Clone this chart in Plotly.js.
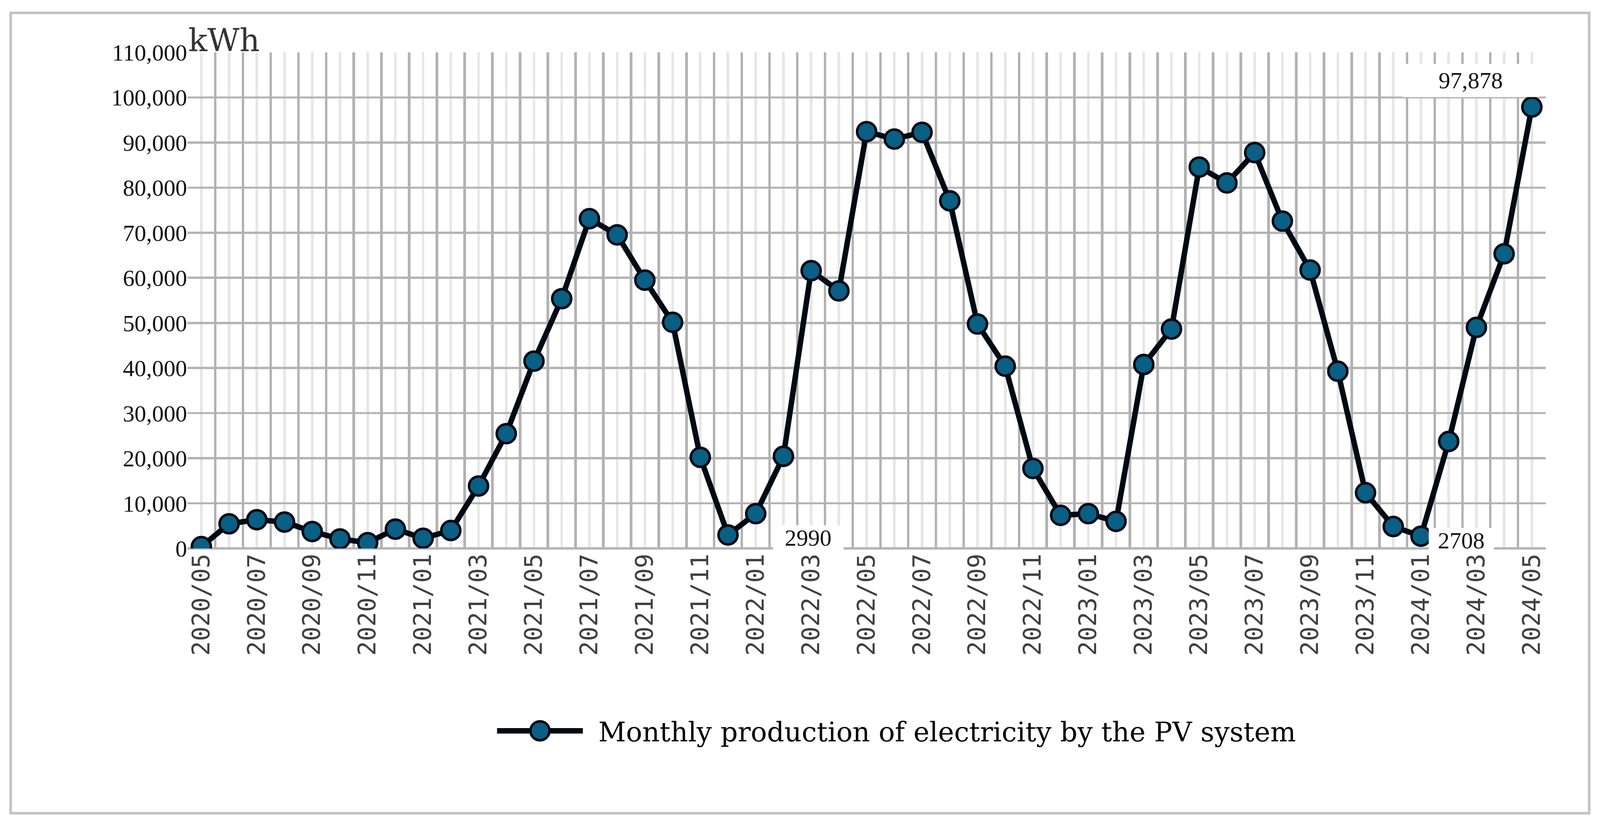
<!DOCTYPE html>
<html>
<head>
<meta charset="utf-8">
<script src="https://cdn.plot.ly/plotly-3.0.1.min.js"></script>
<style>
  html, body { margin: 0; padding: 0; background: #ffffff; overflow: hidden; }
  #chart { position: absolute; left: 0; top: 0; }
</style>
</head>
<body>
<div id="chart"></div>
<script>
// ---- data ----
const months = [
  "2020/05","2020/06","2020/07","2020/08","2020/09","2020/10","2020/11","2020/12",
  "2021/01","2021/02","2021/03","2021/04","2021/05","2021/06","2021/07","2021/08",
  "2021/09","2021/10","2021/11","2021/12","2022/01","2022/02","2022/03","2022/04",
  "2022/05","2022/06","2022/07","2022/08","2022/09","2022/10","2022/11","2022/12",
  "2023/01","2023/02","2023/03","2023/04","2023/05","2023/06","2023/07","2023/08",
  "2023/09","2023/10","2023/11","2023/12","2024/01","2024/02","2024/03","2024/04",
  "2024/05"
];
const production = [
  400, 5460, 6360, 5840, 3740, 2100, 1270, 4270,
  2250, 3970, 13840, 25440, 41530, 55370, 73110, 69520,
  59490, 50140, 20200, 2990, 7710, 20430, 61590, 57100,
  92410, 90770, 92260, 77070, 49760, 40410, 17730, 7330,
  7710, 5990, 40780, 48640, 84560, 81040, 87770, 72580,
  61730, 39290, 12350, 4860, 2708, 23720, 49010, 65330,
  97878
];
const seriesName = "Monthly production of electricity by the PV system";
const unitLabel = "kWh";
const yTicks = [0,10000,20000,30000,40000,50000,60000,70000,80000,90000,100000,110000];
const xTickText = months.map((m, i) => (i % 2 === 0 ? m : ""));

// ---- geometry (designed on a 4380 x 2107 canvas, mapped to the viewport) ----
const DW = 4380, DH = 2107;
const VW = window.innerWidth || DW, VH = window.innerHeight || DH;
const fx = VW / DW, fy = VH / DH, f = Math.min(fx, fy);
const L = 513, R = 4231, T = 134, B = 1404;
const px = X => (X - L) / (R - L);
const py = Y => (B - Y) / (B - T);

const main = {
  type: "scatter",
  mode: "lines+markers",
  x: months,
  y: production,
  name: seriesName,
  line: { color: "#000a14", width: 15 * f },
  marker: { size: 52 * f, color: "#0a5f84", line: { color: "#000a14", width: 7 * f } },
  hoverinfo: "skip"
};
const helper = {
  type: "scatter",
  mode: "markers",
  x: months.map((m, i) => i),
  y: production,
  xaxis: "x2",
  yaxis: "y",
  marker: { opacity: 0 },
  showlegend: false,
  hoverinfo: "skip"
};

const serif = "Liberation Serif";
const numFont = { family: serif, size: 64 * f, color: "#111111" };
const legendLine = 235 * fx;
const legendItemW = 272 * fx;

const layout = {
  width: VW, height: VH,
  margin: { l: L * fx, r: (DW - R) * fx, t: T * fy, b: (DH - B) * fy, pad: 0 },
  paper_bgcolor: "#ffffff",
  plot_bgcolor: "#ffffff",
  showlegend: true,
  hovermode: false,
  xaxis: {
    type: "category",
    categoryorder: "array",
    categoryarray: months,
    range: [-0.5, months.length - 0.5],
    tickmode: "array",
    tickvals: months,
    ticktext: xTickText,
    tickangle: -90,
    ticks: "",
    ticklabelstandoff: 0,
    tickfont: { family: "DejaVu Sans Mono", size: 62 * fy, color: "#404040" },
    showgrid: true,
    gridcolor: "#e6e6e6",
    gridwidth: 7 * f,
    showline: false,
    zeroline: false,
    fixedrange: true
  },
  xaxis2: {
    overlaying: "x",
    anchor: "y",
    type: "linear",
    range: [-0.5, months.length - 0.5],
    tick0: -0.5,
    dtick: 1,
    showticklabels: false,
    ticks: "",
    showgrid: true,
    gridcolor: "#b2b2b2",
    gridwidth: 7 * f,
    showline: false,
    zeroline: false,
    fixedrange: true
  },
  yaxis: {
    range: [0, 110000],
    tickmode: "array",
    tickvals: yTicks,
    tickformat: ",d",
    ticks: "",
    ticklabelstandoff: 33 * fx,
    tickfont: numFont,
    showgrid: true,
    gridcolor: "#b4b4b4",
    gridwidth: 6 * f,
    zeroline: true,
    zerolinecolor: "#b4b4b4",
    zerolinewidth: 6 * f,
    showline: false,
    fixedrange: true
  },
  legend: {
    orientation: "h",
    x: px(1355), xanchor: "left",
    y: py(1871), yanchor: "middle",
    font: { family: "DejaVu Serif", size: 74 * f, color: "#000000" },
    itemwidth: legendItemW,
    bgcolor: "rgba(0,0,0,0)"
  },
  annotations: [
    {
      xref: "paper", yref: "paper",
      x: 0, y: 1, xanchor: "left", yanchor: "bottom",
      text: unitLabel, showarrow: false,
      font: { family: "DejaVu Serif", size: 86 * f, color: "#333333" },
      yshift: -18 * fy
    },
    {
      xref: "x", yref: "y",
      x: 45.8, y: 103800,
      text: production[48].toLocaleString("en-US"), showarrow: false,
      font: numFont,
      bgcolor: "#ffffff", width: 370 * fx, height: 82 * fy
    },
    {
      xref: "x", yref: "y",
      x: 21.9, y: 2300,
      text: String(production[19]), showarrow: false,
      font: numFont,
      bgcolor: "#ffffff", width: 190 * fx, height: 62 * fy
    },
    {
      xref: "x", yref: "y",
      x: 45.45, y: 1700,
      text: String(production[44]), showarrow: false,
      font: numFont,
      bgcolor: "#ffffff", width: 175 * fx, height: 62 * fy
    }
  ],
  shapes: [
    {
      type: "rect", xref: "paper", yref: "paper",
      x0: px(29), x1: px(4350), y0: py(2082), y1: py(33),
      line: { color: "#c2c2c2", width: 7 * f },
      fillcolor: "rgba(0,0,0,0)",
      layer: "below"
    }
  ]
};

Plotly.newPlot("chart", [helper, main], layout, { displayModeBar: false, staticPlot: true }).then(gd => {
  // legend sample drawn at the same size as the plotted line and markers
  const r = 26 * f;
  gd.querySelectorAll(".legend path.js-line").forEach(p => {
    p.setAttribute("d", "M5,0h" + legendLine);
    p.style.strokeWidth = (15 * f) + "px";
  });
  gd.querySelectorAll(".legend path.scatterpts").forEach(p => {
    p.setAttribute("d", "M" + r + ",0A" + r + "," + r + " 0 1,1 0,-" + r + "A" + r + "," + r + " 0 0,1 " + r + ",0Z");
    p.setAttribute("transform", "translate(" + (5 + legendLine / 2) + ",0)");
    p.style.strokeWidth = (7 * f) + "px";
  });
});
</script>
</body>
</html>
